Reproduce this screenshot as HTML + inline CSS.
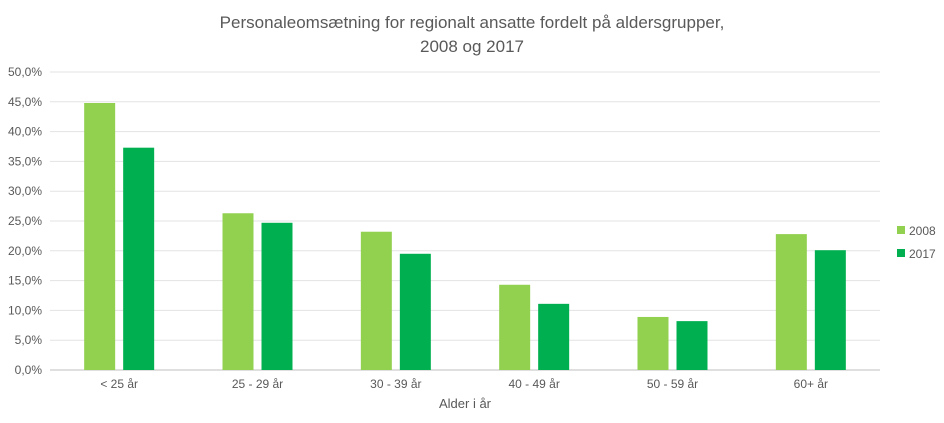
<!DOCTYPE html>
<html><head><meta charset="utf-8"><style>
body{margin:0;background:#fff;}
svg text{font-family:"Liberation Sans",sans-serif;}
</style></head><body>
<svg id="chart" width="944" height="418" xmlns="http://www.w3.org/2000/svg">
<text x="472" y="28" text-anchor="middle" font-size="17" fill="#595959">Personaleomsætning for regionalt ansatte fordelt på aldersgrupper,</text>
<text x="472" y="52" text-anchor="middle" font-size="17" fill="#595959">2008 og 2017</text>
<g id="grid"></g><g id="bars"></g><g id="xlabels"></g>
<text x="465" y="408" text-anchor="middle" font-size="13" fill="#595959">Alder i år</text>
<g>
<rect x="897" y="226" width="8" height="8" fill="#92d050"/>
<text x="909" y="235" font-size="12" fill="#595959">2008</text>
<rect x="897" y="249" width="8" height="8" fill="#00b050"/>
<text x="909" y="258" font-size="12" fill="#595959">2017</text>
</g>
</svg>
<script>
const categories=["< 25 år","25 - 29 år","30 - 39 år","40 - 49 år","50 - 59 år","60+ år"];
const values2008=[44.8,26.3,23.2,14.3,8.9,22.8];
const values2017=[37.3,24.7,19.5,11.1,8.2,20.1];
const yTicks=[0,5,10,15,20,25,30,35,40,45,50];
const NS="http://www.w3.org/2000/svg";
const x0=50,x1=880,y0=370,y1=72;
const y=v=>y0-(v/50)*(y0-y1);
const band=(x1-x0)/categories.length;
const cx=i=>x0+band*(i+0.5);
function mk(t,a,p){const e=document.createElementNS(NS,t);for(const k in a)e.setAttribute(k,a[k]);p.appendChild(e);return e;}
const grid=document.getElementById('grid'),bars=document.getElementById('bars'),xl=document.getElementById('xlabels');
yTicks.forEach(t=>{
 const l=mk('line',{x1:x0,x2:x1,y1:y(t),y2:y(t),stroke:t===0?'#bfbfbf':'#e3e3e3','stroke-width':1},grid);
 
 
 const tx=mk('text',{x:42,y:y(t)+4,'text-anchor':'end','font-size':12,fill:'#595959'},grid);
 tx.textContent=t.toFixed(1).replace('.',',')+'%';
 
 
});
const bw=31,gap=8;
categories.forEach((c,i)=>{
 const b1=mk('rect',{x:cx(i)-gap/2-bw,y:y(values2008[i]),width:bw,height:y0-y(values2008[i]),fill:'#92d050'},bars);
 
 
 const b2=mk('rect',{x:cx(i)+gap/2,y:y(values2017[i]),width:bw,height:y0-y(values2017[i]),fill:'#00b050'},bars);
 
 
 const t=mk('text',{x:cx(i),y:388,'text-anchor':'middle','font-size':12,fill:'#595959'},xl);
 t.textContent=c;
 
 
});
</script>
</body></html>
